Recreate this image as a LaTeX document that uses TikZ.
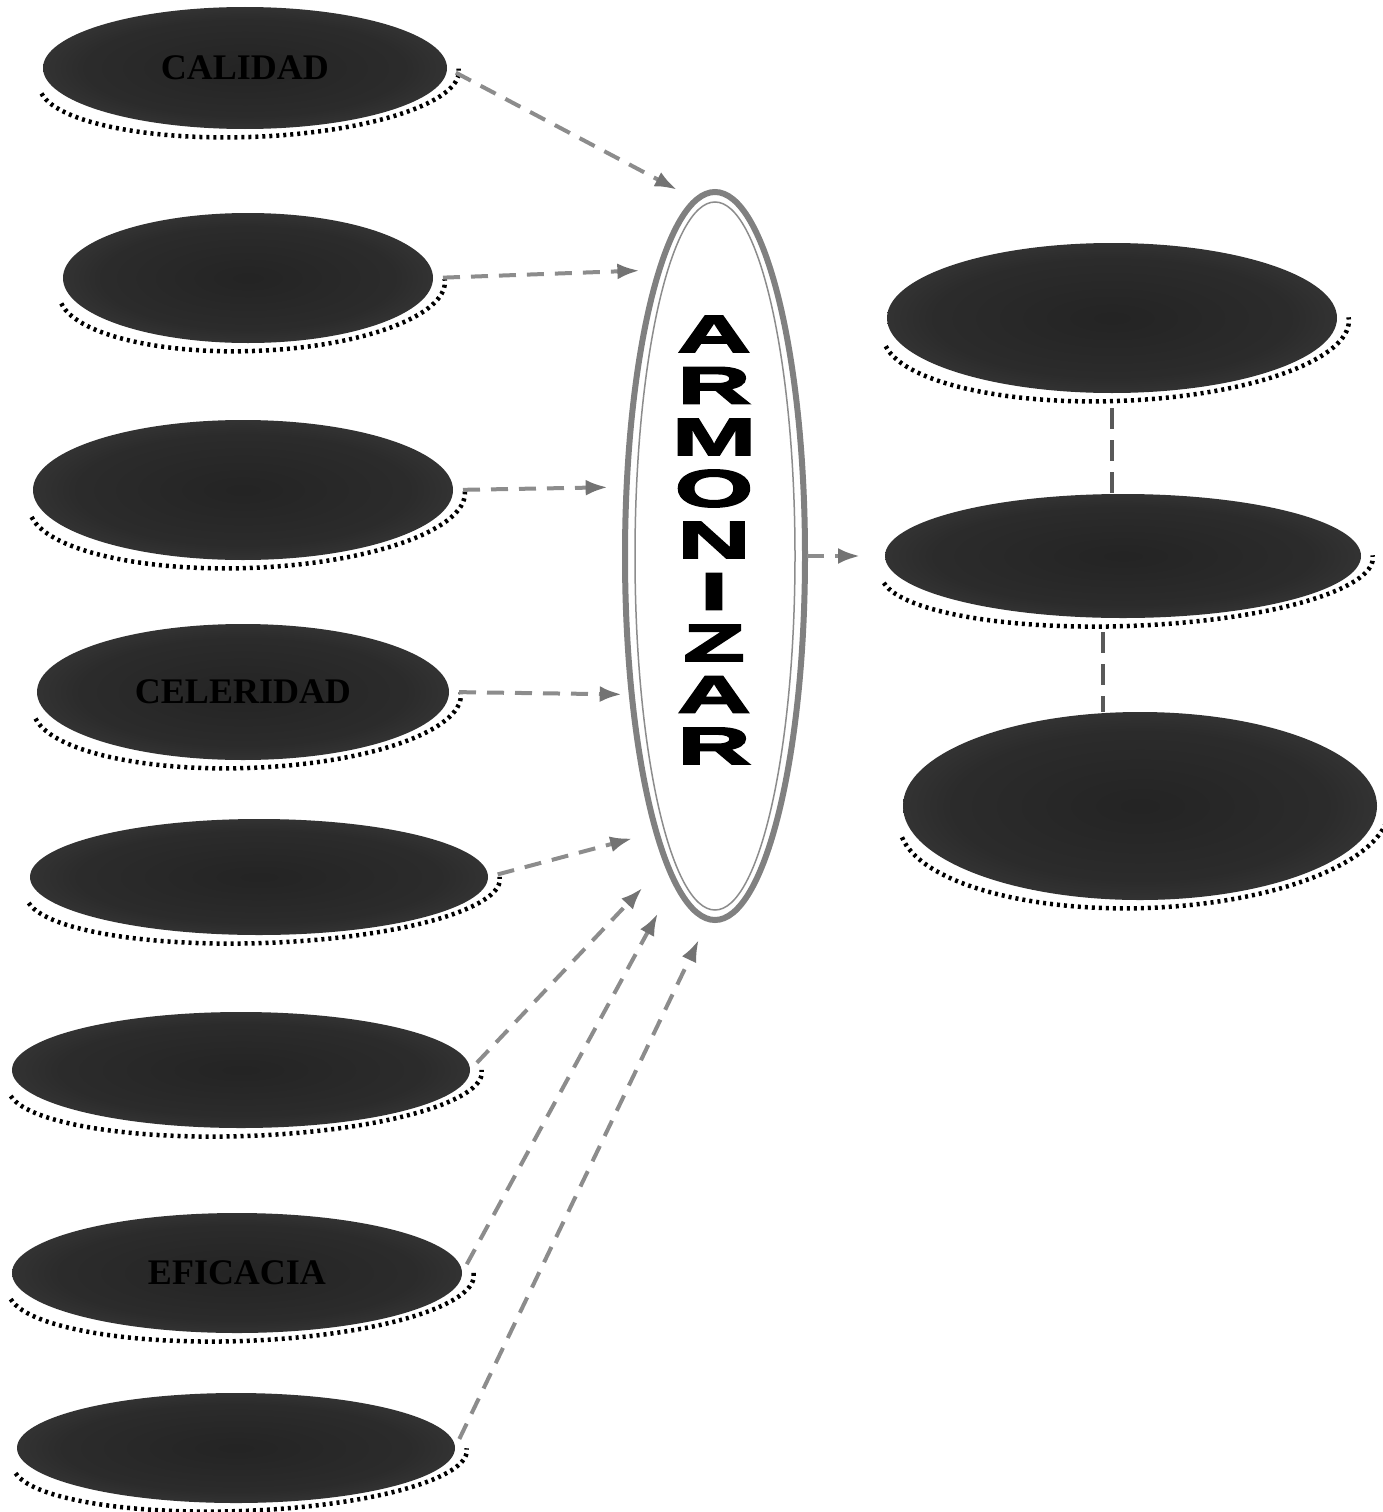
\documentclass[tikz,border=0pt]{standalone}
\usepackage{fontspec}
\setmainfont{Liberation Serif}
\newfontfamily\armfont[FakeStretch=1.95,FakeBold=4]{Liberation Sans Bold}
\usetikzlibrary{shapes.geometric,arrows.meta,calc}
\pgfdeclareradialshading{diskshade}{\pgfpoint{0bp}{0bp}}{color(0bp)=(black!86); color(20bp)=(black!83); color(36bp)=(black!74); color(50bp)=(black!48); color(80bp)=(black!48)}
% \diskitem{name}{cx}{cy}{rx}{ry}{text}  (pixel coordinates, y downwards)
\newcommand\diskitem[6]{%
  \begin{scope}[shift={(#2+4,-#3-10)},rotate=2]
    \draw[rimdots] (188:{#4+8} and {#5-2}) arc[start angle=188,end angle=362,x radius=#4+8,y radius=#5-2];
  \end{scope}
  \node[disk,minimum width=2*#4,minimum height=2*#5] (#1) at (#2,-#3) {#6};
}
\begin{document}
\begin{tikzpicture}[x=1pt,y=1pt,
  rimdots/.style={black,line width=4.5pt,dash pattern=on 3pt off 4pt},
  disk/.style={ellipse,inner sep=0pt,outer sep=0pt,shade,shading=diskshade,
    text=black,font=\fontsize{36}{40}\selectfont\bfseries},
  flow/.style={black!45,line width=4pt,dash pattern=on 17pt off 11pt,
    -{Latex[length=22pt,width=16pt,fill=black!55,color=black!55]},shorten <=10pt},
  link/.style={black!65,line width=4pt,dash pattern=on 21pt off 11pt}]
\useasboundingbox (0,0) rectangle (1383,-1512);

% left column
\diskitem{e1}{245}{68}{202}{61}{CALIDAD}
\diskitem{e2}{248}{278}{185}{65}{}
\diskitem{e3}{243}{490}{210}{70}{}
\diskitem{e4}{243}{692}{206}{68}{CELERIDAD}
\diskitem{e5}{259}{877}{229}{58}{}
\diskitem{e6}{241}{1070}{229}{58}{}
\diskitem{e7}{237}{1273}{225}{60}{EFICACIA}
\diskitem{e8}{236}{1448}{219}{55}{}

% right column
\diskitem{r1}{1112}{318}{225}{75}{}
\diskitem{r2}{1123}{556}{238}{62}{}
\diskitem{r3}{1140}{806}{237}{94}{}

% central ellipse
\node[ellipse,draw=black!50,line width=6pt,fill=white,inner sep=0pt,outer sep=0pt,
  minimum width=180,minimum height=728] (arm) at (715,-556) {};
\draw[black!45,line width=1.5pt] (arm.center) ellipse[x radius=80,y radius=354];
\node[inner sep=0pt,align=center,font=\armfont\fontsize{52}{51.5}\selectfont] (armtxt)
  at (714,-540) {A\\R\\M\\O\\N\\I\\Z\\A\\R};

% connectors into the central ellipse
\draw[flow,shorten >=22pt] (e1.east) -- (arm.93);
\draw[flow,shorten >=20pt] (e2.east) -- (arm.101.6);
\draw[flow,shorten >=19pt] (e3.east) -- (arm.142);
\draw[flow,shorten >=10pt] (e4.east) -- (arm.239.5);
\draw[flow,shorten >=25pt] (e5.east) -- (arm.258.2);
\draw[flow,shorten >=35pt] (e6.east) -- (arm.261.2);
\draw[flow,shorten >=36pt] (e7.east) -- (arm.263.1);
\draw[flow,shorten >=23pt] (e8.east) -- (arm.269.1);

% out of the central ellipse
\draw[flow,shorten <=2pt,shorten >=25pt] (arm.east) -- (r2.west);

% links on the right
\draw[link,shorten <=15pt] (r1.south) -- (r1.south |- r2.north);
\draw[link,shorten <=14pt] ([xshift=-20pt]r2.south) -- ([xshift=-20pt]r2.south |- r3.north);
\end{tikzpicture}
\end{document}
